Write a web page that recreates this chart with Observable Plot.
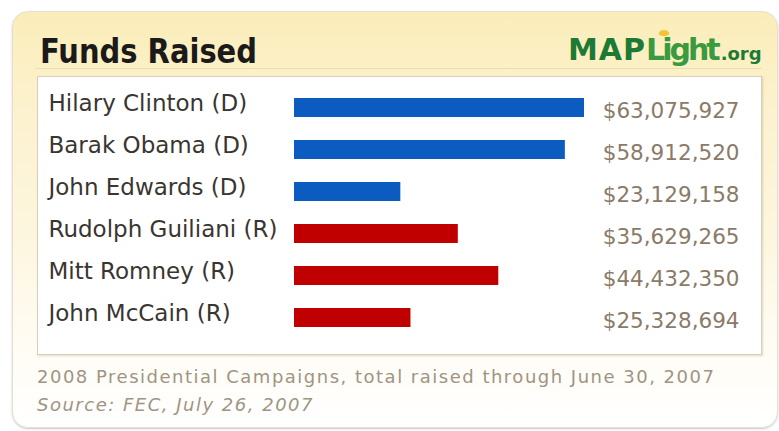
<!DOCTYPE html>
<html>
<head>
<meta charset="utf-8">
<script src="https://cdn.jsdelivr.net/npm/d3@7"></script>
<script src="https://cdn.jsdelivr.net/npm/@observablehq/plot@0.6"></script>
<style>
  html, body { margin: 0; padding: 0; background: #ffffff; }
  #page { position: relative; width: 779px; height: 431px; overflow: hidden; font-family: "DejaVu Sans", sans-serif; }
  #panel { position: absolute; left: 12px; top: 11px; width: 764px; height: 415px; border-radius: 16px;
    border: 1px solid #e4dfd2; box-shadow: 0 1px 2px rgba(0,0,0,0.22);
    background: linear-gradient(to bottom, #fbedb9 0%, #fcf2d0 25%, #fdf6df 55%, #fffcf4 80%, #ffffff 100%); }
  #title { position: absolute; left: 40px; top: 34px; font-size: 34px; line-height: 34px; font-weight: bold; color: #1a1a1a;
    white-space: nowrap; transform-origin: 0 0; }
  #rule { position: absolute; left: 35px; top: 68px; width: 727px; height: 1px; background: #eadcb4; }
  #logo { position: absolute; left: 568px; top: 35px; line-height: 30px; white-space: nowrap; font-weight: bold; }
  #logo .map { font-size: 30px; color: #1d7a35; letter-spacing: 1px; }
  #logo .light { font-size: 30px; color: #3a9a3e; letter-spacing: -3px; }
  #logo .org { font-size: 18px; color: #1d7a35; margin-left: 3px; }
  #bulb { position: absolute; left: 659px; top: 30px; width: 10px; height: 6px; border-radius: 50% 50% 40% 40%; background: #f3c331; }
  #box { position: absolute; left: 37px; top: 76px; width: 723px; height: 277px; border: 1.5px solid #d6cfba; background: #ffffff;
    box-shadow: 1px 1px 2px rgba(120,110,80,0.25); }
  #chart { position: absolute; left: 37px; top: 76px; width: 725px; height: 279px; }
  #caption { position: absolute; left: 37px; top: 363px; font-size: 18px; line-height: 28px; color: #a09482; white-space: nowrap; letter-spacing: 1.5px; }
  #caption .src { font-style: italic; }
</style>
</head>
<body>
<div id="page">
  <div id="panel"></div>
  <div id="title">Funds Raised</div>
  <div id="rule"></div>
  <div id="logo"><span class="map">MAP</span><span class="light">Light</span><span class="org">.org</span></div>
  <div id="bulb"></div>
  <div id="box"></div>
  <div id="chart"></div>
  <div id="caption">
    <div>2008 Presidential Campaigns, total raised through June 30, 2007</div>
    <div class="src">Source: FEC, July 26, 2007</div>
  </div>
</div>
<script>
const candidates = ["Hilary Clinton (D)", "Barak Obama (D)", "John Edwards (D)", "Rudolph Guiliani (R)", "Mitt Romney (R)", "John McCain (R)"];
const parties = ["D", "D", "D", "R", "R", "R"];
const raised = [63075927, 58912520, 23129158, 35629265, 44432350, 25328694];
const partyColors = ["#0b5bc0", "#c00000"];

const data = candidates.map((name, i) => ({name, party: parties[i], raised: raised[i]}));
const fmt = v => "$" + d3.format(",")(v);

// fit title width
const t = document.getElementById("title");
t.style.transform = `scaleX(${217 / t.getBoundingClientRect().width})`;

const chart = Plot.plot({
  width: 725,
  height: 279,
  marginLeft: 11,
  marginRight: 23,
  marginTop: 0,
  marginBottom: 0,
  x: {domain: [0, d3.max(raised)], range: [257, 547], axis: null},
  y: {domain: candidates, range: [-3, 276], padding: 0.554, axis: null},
  color: {domain: ["D", "R"], range: partyColors},
  style: {background: "transparent", fontFamily: "DejaVu Sans, sans-serif", overflow: "visible"},
  marks: [
    Plot.barX(data, {x: "raised", y: "name", fill: "party"}),
    Plot.text(data, {y: "name", text: "name", frameAnchor: "left", textAnchor: "start", dy: -4, fontSize: 23, fill: "#3a3531"}),
    Plot.text(data, {y: "name", text: d => fmt(d.raised), frameAnchor: "right", textAnchor: "end", dy: 3, fontSize: 21.5, fill: "#8a7a68"})
  ]
});
document.getElementById("chart").appendChild(chart);
</script>
</body>
</html>
